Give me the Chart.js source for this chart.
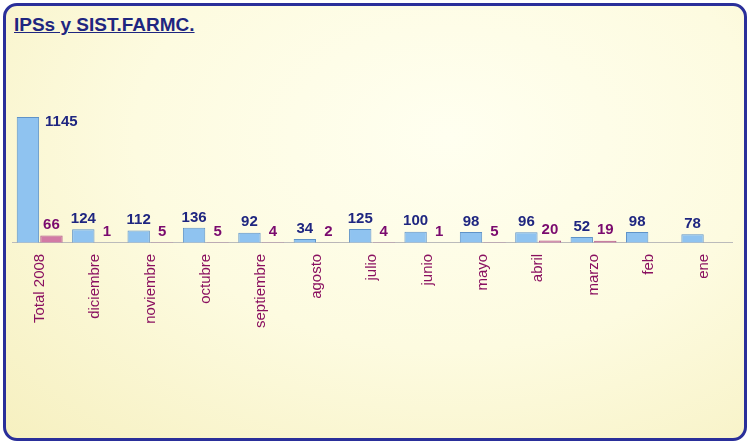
<!DOCTYPE html>
<html><head><meta charset="utf-8">
<script src="https://cdn.jsdelivr.net/npm/chart.js@4"></script>
<style>
html,body{margin:0;padding:0;background:#fff;}
#frame{position:absolute;left:3px;top:3px;width:738px;height:432px;border:3px solid #2a2f9a;border-radius:14px;
background:radial-gradient(ellipse at 60% 30%,#fffff0 0%,#fdfbe0 50%,#f6f0c0 100%);overflow:hidden;}
#title{position:absolute;left:8px;top:8px;font:bold 19px "Liberation Sans",Arial,sans-serif;color:#1f2680;text-decoration:underline;}
#wrap{position:absolute;left:6px;top:95px;width:730px;height:230px;}
</style></head><body>
<div id="frame"><div id="title">IPSs y SIST.FARMC.</div><div id="wrap"><canvas id="c"></canvas></div></div>
<script>
const categories=["Total 2008","diciembre","noviembre","octubre","septiembre","agosto","julio","junio","mayo","abril","marzo","feb","ene"];
const ipsValues=[1145,124,112,136,92,34,125,100,98,96,52,98,78];
const farmValues=[66,1,5,5,4,2,4,1,5,20,19,0,0];
const labelPlugin={id:'lbl',afterDatasetsDraw(ch){
 const ctx=ch.ctx;ctx.save();ctx.font='bold 15px "Liberation Sans",Arial';ctx.textAlign='center';ctx.textBaseline='bottom';
 ch.data.datasets.forEach((ds,i)=>{const m=ch.getDatasetMeta(i);
  m.data.forEach((b,j)=>{const v=ds.data[j];if(i===1&&v===0)return;
   ctx.fillStyle=i===0?'#1f2680':'#7a0a6e';
   if(i===0&&j===0){ctx.textAlign='left';ctx.fillText(String(v),b.x+b.width/2+6,b.y+12);ctx.textAlign='center';return;}
   ctx.fillText(String(v),b.x,b.y-3);});});
 ctx.restore();}};
new Chart(document.getElementById('c'),{type:'bar',
 data:{labels:categories,datasets:[
  {label:'IPSs',data:ipsValues,backgroundColor:'#8fc3f0',borderColor:'#5f93c8',borderWidth:1,barPercentage:0.95,categoryPercentage:0.85},
  {label:'SIST.FARMC.',data:farmValues,backgroundColor:'#d27aa5',borderColor:'#b05888',borderWidth:1,barPercentage:0.95,categoryPercentage:0.85}]},
 options:{responsive:true,maintainAspectRatio:false,animation:false,
  layout:{padding:{top:10,right:10}},
  plugins:{legend:{display:false},tooltip:{enabled:false}},
  scales:{y:{display:false,min:0,max:1200},
   x:{grid:{display:false},border:{display:true,color:'#bbb'},
    ticks:{color:'#8a1060',font:{size:15,family:'"Liberation Sans",Arial'},maxRotation:90,minRotation:90,autoSkip:false}}}},
 plugins:[labelPlugin]});
</script></body></html>
